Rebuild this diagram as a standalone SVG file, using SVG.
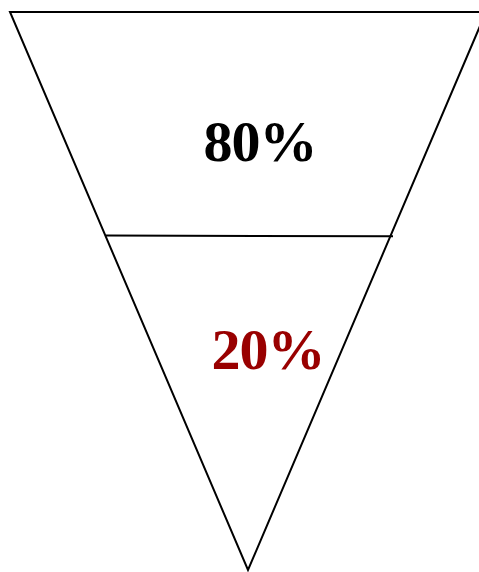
<svg xmlns="http://www.w3.org/2000/svg" width="479" height="572" viewBox="0 0 479 572">
<style>
.ln{stroke:#000;stroke-width:2;fill:none}
.lbl{font-family:"Liberation Serif","Times New Roman",serif;font-weight:bold;font-size:58px;text-anchor:middle;letter-spacing:-1px}
</style>
<rect width="479" height="572" fill="#fff"/>
<g id="connectors">
<polygon class="ln" points="10,12 486,12 248,570"/>
<line class="ln" x1="106" y1="235.5" x2="393" y2="236.3"/>
</g>
<g id="top"><text class="lbl" x="260" y="161" fill="#000">80%</text></g>
<g id="bottom"><text class="lbl" x="268" y="369" fill="#990000">20%</text></g>
</svg>
